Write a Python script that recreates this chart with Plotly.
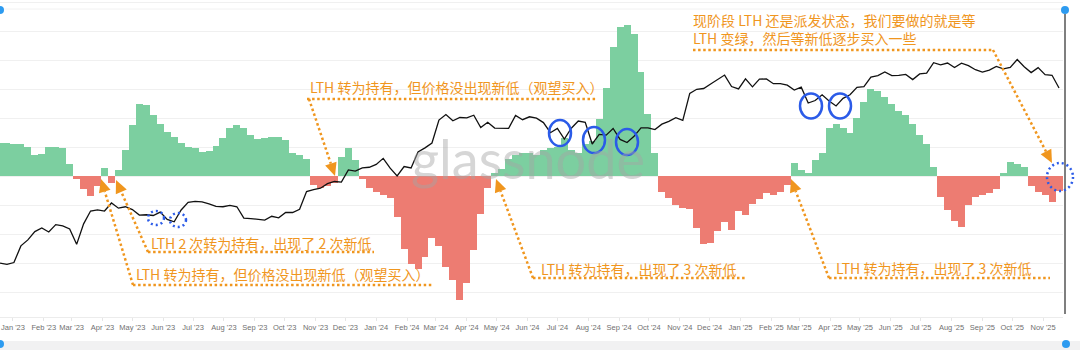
import math
import plotly.graph_objects as go
import pandas as pd

# ---------------- data (weekly samples) ----------------
START = "2022-12-19"

# LTH net position change (k BTC), one value per week
lth_net_change = [
    114, 114, 110, 110, 100, 72, 75, 100, 100, 95,
    40, -10, -45, -70, -35, 27, -25, 20, 90, 175,
    250, 245, 210, 180, 152, 134, 114, 100, 95, 83,
    85, 105, 130, 165, 176, 165, 140, 128, 131, 134,
    134, 124, 79, 72, 60, -30, -40, -35, -25, 65,
    95, 55, -10, -40, -55, -65, -75, -140, -250, -305,
    -320, -280, -215, -240, -315, -359, -428, -369, -255, -130,
    -40, 10, 25, 58, 74, 80, 78, 72, 90, 98,
    100, 130, 90, 78, 110, 122, 195, 305, 445, 514,
    521, 490, 360, 215, 80, -55, -75, -100, -110, -115,
    -180, -235, -230, -190, -160, -185, -120, -135, -95, -80,
    -60, -65, -55, -30, 45, 20, 10, 55, 80, 165,
    180, 165, 150, 200, 255, 300, 292, 272, 250, 225,
    212, 180, 140, 110, 30, -72, -117, -155, -175, -100,
    -72, -65, -58, -45, 10, 48, 40, 30, -35, -55,
    -65, -90, -50,
]

# BTC price (USD), one value per week
btc_price = [
    16800, 16600,
    16900, 19900, 21100, 22900, 23700, 22800, 24500, 24200, 23500, 20200,
    24700, 28000, 28300, 28000, 30300, 28800, 29200, 28400, 26900, 27000,
    26800, 27700, 25800, 25200, 28300, 30500, 30800, 30600, 30000, 29300,
    29200, 29600, 29200, 26100, 26000, 25800, 25600, 26600, 26200, 27600,
    27600, 28500, 33900, 34500, 35000, 36600, 37400, 37200, 41900, 41400,
    42700, 43000,
    44200, 46900, 42600, 39500, 43300, 42700, 49900, 52000, 54500, 68300,
    72100, 67800, 70000, 69700, 71600, 63400, 66800, 63100, 63100, 62900,
    71400, 68500, 70500, 69600, 66600, 60300, 62900, 56700, 63000, 67600,
    66800, 54000, 59300, 58900, 62900, 56500, 54800, 58200, 63300, 63300,
    62200, 65600, 67400, 69900, 68000, 88700, 92300, 93000, 97200, 101200,
    106100, 94800, 92600,
    102200, 94500, 102000, 102100, 97500, 97500, 96100, 91600, 94200, 80700,
    82700, 87500, 82300, 78400, 84500, 87500, 94000, 94700, 104100, 105600,
    109400, 105600, 105700, 106800, 101500, 107300, 108200, 119800, 117300, 119400,
    114200, 119300, 116300, 111800, 109200, 111400, 115400, 112700, 114400, 123500,
    115100, 108700, 114100, 106500, 105900, 93500,
]

weeks = pd.date_range(START, periods=len(btc_price), freq="7D")

GREEN = "rgb(124,207,160)"
RED = "rgb(237,124,114)"
ORANGE = "#F0961E"
BLUE = "#2B5BE8"

bar_colors = [GREEN if v >= 0 else RED for v in lth_net_change]

fig = go.Figure()
fig.add_trace(go.Bar(
    x=weeks, y=lth_net_change, marker=dict(color=bar_colors, line=dict(width=0)),
    width=7 * 86400000, showlegend=False, hoverinfo="skip",
))
fig.add_trace(go.Scatter(
    x=weeks, y=btc_price, yaxis="y2", mode="lines",
    line=dict(color="#111111", width=1.3), showlegend=False, hoverinfo="skip",
))

# ---------------- layout geometry ----------------
W, H = 1080, 350
PLOT_W, PLOT_H = 1063, 317
ZERO_PX, GRID_PX = 176, 29
bar_top = ZERO_PX / GRID_PX * 100
bar_bot = -(PLOT_H - ZERO_PX) / GRID_PX * 100
p_ref, p_ref_px, px_per_dec = 16500, 265, 235
y2_top = math.log10(p_ref) + p_ref_px / px_per_dec
y2_bot = math.log10(p_ref) - (PLOT_H - p_ref_px) / px_per_dec


def P(px, py):
    return px / PLOT_W, 1 - py / PLOT_H


shapes = []
annotations = []

# light bottom strip / frame
x0, y0 = P(-5, 341)
x1, y1 = P(1085, 355)
shapes.append(dict(type="rect", xref="paper", yref="paper", x0=x0, y0=y1, x1=x1, y1=y0,
                   fillcolor="#f1f1f2", line=dict(width=0), layer="below"))
# top faint line
a = P(0, 9); b = P(1063, 9)
shapes.append(dict(type="line", xref="paper", yref="paper", x0=a[0], y0=a[1], x1=b[0], y1=b[1],
                   line=dict(color="#f2f2f2", width=1), layer="below"))
# right vertical selection line
a = P(1065, 14); b = P(1065, 314)
shapes.append(dict(type="line", xref="paper", yref="paper", x0=a[0], y0=a[1], x1=b[0], y1=b[1],
                   line=dict(color="#555555", width=1.5)))
for (cx, cy) in [(1065, 10), (1066, 344), (0, 10), (0, 344)]:
    a = P(cx - 4, cy - 4); b = P(cx + 4, cy + 4)
    shapes.append(dict(type="circle", xref="paper", yref="paper", x0=a[0], y0=b[1], x1=b[0], y1=a[1],
                       fillcolor="#2d9bf0", line=dict(width=0)))

# watermark
wx, wy = P(528, 158)
annotations.append(dict(text="glassnode", xref="paper", yref="paper", x=wx, y=wy,
                        showarrow=False, font=dict(size=54, color="rgba(165,165,165,0.45)",
                                                   family="Lato, Open Sans, sans-serif")))

# orange texts
texts = [
    ("LTH 转为持有，但价格没出现新低（观望买入）", 309, 87),
    ("现阶段 LTH 还是派发状态，我们要做的就是等<br>LTH 变绿，然后等新低逐步买入一些", 692, 29.5),
    ("LTH 2 次转为持有，出现了 2 次新低", 150, 243),
    ("LTH 转为持有，但价格没出现新低（观望买入）", 135, 274),
    ("LTH 转为持有，出现了 3 次新低", 540, 269),
    ("LTH 转为持有，出现了 3 次新低", 835, 268),
]
for t, px, py in texts:
    x, y = P(px, py)
    annotations.append(dict(text=t, xref="paper", yref="paper", x=x, y=y, xanchor="left",
                            yanchor="middle", showarrow=False, borderpad=0, align="left",
                            font=dict(size=14, color=ORANGE, family="Noto Sans CJK SC")))

DOT = "2.5px,2.6px"
underlines = [(307, 99, 597), (693, 50, 993), (148, 252, 374), (133, 285, 432),
              (533, 278, 745), (829, 278, 1050)]
for xs, yy, xe in underlines:
    a = P(xs, yy); b = P(xe, yy)
    shapes.append(dict(type="line", xref="paper", yref="paper", x0=a[0], y0=a[1], x1=b[0], y1=b[1],
                       line=dict(color=ORANGE, width=2.5, dash=DOT)))

arrows = [((309, 99), (335, 176)), ((993, 50), (1052, 163)), ((148, 252), (116, 180)),
          ((133, 285), (101, 179)), ((533, 278), (496, 179)), ((829, 278), (791, 179))]
HEAD_L, HEAD_W = 13, 12
for (sx, sy), (tx, ty) in arrows:
    dx, dy = tx - sx, ty - sy
    n = math.hypot(dx, dy)
    ux, uy = dx / n, dy / n
    bx, by = tx - ux * HEAD_L, ty - uy * HEAD_L
    a = P(sx, sy); b = P(bx, by)
    shapes.append(dict(type="line", xref="paper", yref="paper", x0=a[0], y0=a[1], x1=b[0], y1=b[1],
                       line=dict(color=ORANGE, width=2.5, dash=DOT)))
    px_, py_ = -uy, ux
    v1 = P(tx, ty)
    v2 = P(bx + px_ * HEAD_W / 2, by + py_ * HEAD_W / 2)
    v3 = P(bx - px_ * HEAD_W / 2, by - py_ * HEAD_W / 2)
    path = f"M {v1[0]},{v1[1]} L {v2[0]},{v2[1]} L {v3[0]},{v3[1]} Z"
    shapes.append(dict(type="path", xref="paper", yref="paper", path=path,
                       fillcolor=ORANGE, line=dict(width=0)))

ellipses = [(560, 133, 11, 13), (594, 140, 11, 13), (627, 142, 11, 13),
            (811, 106, 11, 12.5), (840, 106, 11, 12.5)]
for cx, cy, rx, ry in ellipses:
    a = P(cx - rx, cy - ry); b = P(cx + rx, cy + ry)
    shapes.append(dict(type="circle", xref="paper", yref="paper", x0=a[0], y0=b[1], x1=b[0], y1=a[1],
                       line=dict(color=BLUE, width=2.5)))
dotted_ellipses = [(156, 218, 8, 7), (178, 220, 8, 7), (1060, 177, 13, 14)]
for cx, cy, rx, ry in dotted_ellipses:
    a = P(cx - rx, cy - ry); b = P(cx + rx, cy + ry)
    shapes.append(dict(type="circle", xref="paper", yref="paper", x0=a[0], y0=b[1], x1=b[0], y1=a[1],
                       line=dict(color=BLUE, width=2.5, dash="2px,3px")))

fig.update_layout(
    width=W, height=H,
    margin=dict(l=0, r=W - PLOT_W, t=0, b=H - PLOT_H),
    paper_bgcolor="white", plot_bgcolor="white",
    bargap=0,
    xaxis=dict(
        type="date", range=["2022-12-19", "2025-11-21"],
        tick0="2023-01-01", dtick="M1", tickformat="%b '%y", tickangle=0,
        tickfont=dict(size=7.5, color="#707070", family="Liberation Sans, Arial"),
        showgrid=False, showline=True, linecolor="#ececec", linewidth=1,
        ticks="outside", ticklen=3, tickcolor="#e6e6e6",
    ),
    yaxis=dict(range=[bar_bot, bar_top], dtick=100, showticklabels=False,
               gridcolor="#f0f0f0", gridwidth=1, zeroline=False),
    yaxis2=dict(type="log", range=[y2_bot, y2_top], overlaying="y", side="right",
                showticklabels=False, showgrid=False, zeroline=False),
    shapes=shapes,
    annotations=annotations,
)

fig.write_html("out.html")
